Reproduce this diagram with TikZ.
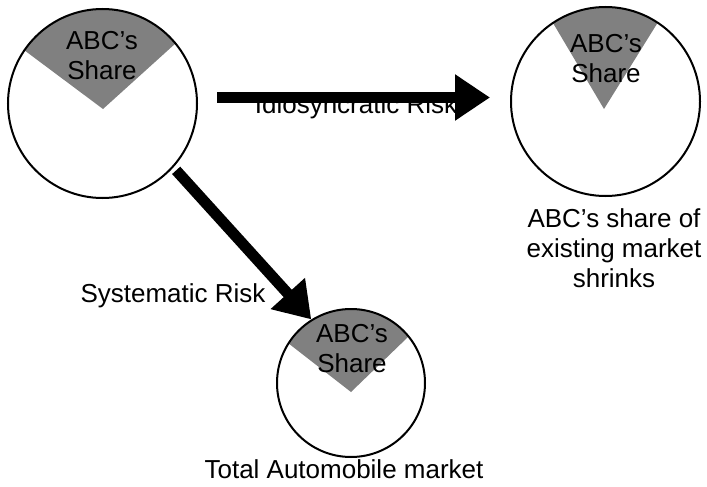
\documentclass[tikz,border=0pt]{standalone}
\usepackage{fontspec}
\setmainfont{Liberation Sans}
\usetikzlibrary{arrows.meta, backgrounds}
\definecolor{shareGray}{RGB}{128,128,128}

\begin{document}
\begin{tikzpicture}[x=0.5pt,y=-0.5pt,
        every node/.style={font=\fontsize{13}{15}\selectfont},
        market/.style={circle, draw, line width=1pt, minimum size=#1, inner sep=0pt},
        share/.style={fill=shareGray},
        lbl/.style={align=center, inner sep=0pt},
        riskarrow/.style={line width=5.5pt, -{Triangle[length=17.5pt,width=22pt]}}]
        \useasboundingbox (0,0) rectangle (707,487);
        \node [market=94.5pt] (m1) at (102.5,103.5) {};
        \node [market=94.5pt] (m2) at (605.5,101.5) {};
        \node [market=74pt] (m3) at (351,383) {};
        \begin{pgfonlayer}{background}
        \begin{scope}
        \clip (m1) circle [radius=47.25pt];
        \fill [share] (103,109) -- (-55,-9) -- (249,-23) -- cycle;
        \end{scope}
        \begin{scope}
        \clip (m2) circle [radius=47.25pt];
        \fill [share] (604,109) -- (527.5,-20) -- (680.5,-14) -- cycle;
        \end{scope}
        \begin{scope}
        \clip (m3) circle [radius=37pt];
        \fill [share] (351,392) -- (225,294) -- (465,282) -- cycle;
        \end{scope}
        \end{pgfonlayer}
        \node [lbl] (s1) at (102,55.5) {ABC's\\Share};
        \node [lbl] (s2) at (606,59) {ABC's\\Share};
        \node [lbl] (s3) at (352,349) {ABC's\\Share};
        \node [lbl] (shrink) at (614,248.5) {ABC's share of\\existing market\\shrinks};
        \node [lbl, anchor=base] (total) at (344,478) {Total Automobile market};
        \node [lbl, anchor=base] (idio) at (356,113) {Idiosyncratic Risk};
        \node [lbl, anchor=base] (syst) at (173,302) {Systematic Risk};
        \draw [riskarrow, shorten <=9.5pt, shorten >=10pt] ([yshift=3pt]m1.east) -- ([yshift=2pt]m2.west);
        \draw [riskarrow, shorten <=2pt] (m1.-42) -- (m3.122);
\end{tikzpicture}
\end{document}
